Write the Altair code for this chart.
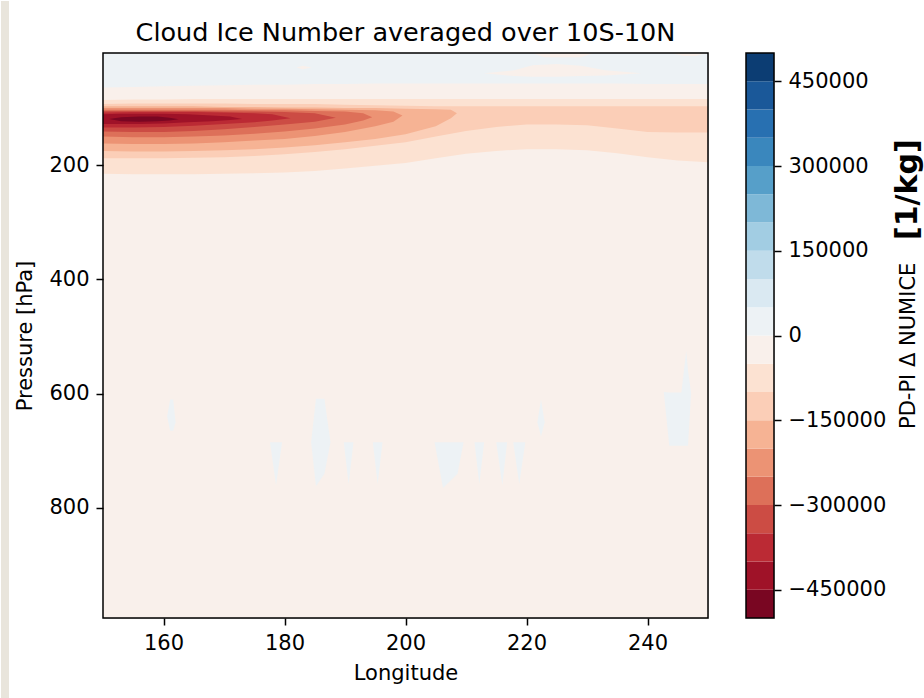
import altair as alt
import numpy as np
import pandas as pd

FONT = "DejaVu Sans"

# contour interval edges (1/kg) and colour bar ticks
level_edges = list(range(-500000, 500001, 50000))
cbar_ticks = [-450000, -300000, -150000, 0, 150000, 300000, 450000]

# vertical extent of the model levels (hPa)
p_top_lev = 3.64
p_bot_lev = 992.56

lon_ticks = [160, 180, 200, 220, 240]
p_ticks = [200, 400, 600, 800]

band_lon = [150, 155, 160, 165, 170, 175, 180, 185, 190, 195, 200,
            205, 210, 215, 220, 225, 230, 235, 240, 245, 250]

# upper layer of weak positive change: its lower edge (hPa)
pos_top_bottom = [64, 63, 62, 61, 60, 59, 59, 58, 58, 57, 57,
                  57, 57, 57, 57, 57, 57, 57, 58, 58, 58]

# nested negative regions of the upper-tropospheric band (upper / lower edge, hPa)
neg50_top = [86, 85, 85, 84, 84, 84, 84, 84, 84, 84, 84,
             84, 84, 84, 84, 84, 84, 84, 84, 84, 84]
neg50_bot = [215, 216, 216, 216, 215, 214, 213, 210, 206, 201, 196,
             188, 180, 175, 172, 172, 174, 179, 186, 192, 195]

neg100_top = [93, 92, 92, 92, 92, 93, 93, 93, 94, 95, 96,
              97, 97, 97, 97, 97, 97, 97, 97, 97, 97]
neg100_bot = [188, 188, 188, 187, 186, 184, 181, 177, 172, 166, 160,
              150, 140, 133, 129, 129, 130, 136, 142, 143, 143]

neg150_lon = [150, 155, 160, 165, 170, 175, 180, 185, 190, 195, 200, 205, 207.5, 208.5]
neg150_top = [97, 97, 97, 97, 98, 98, 99, 99, 100, 100, 101, 102, 103, 109]
neg150_bot = [175, 176, 176, 175, 174, 172, 169, 165, 160, 154, 146, 132, 118, 109]

neg200_lon = [150, 155, 160, 165, 170, 175, 180, 185, 190, 195, 198, 199.5]
neg200_top = [100, 100, 100, 100, 100, 101, 101, 102, 103, 104, 106, 113]
neg200_bot = [162, 163, 163, 162, 160, 157, 154, 149, 142, 132, 124, 113]

neg250_lon = [150, 155, 160, 165, 170, 175, 180, 185, 190, 193, 194.5]
neg250_top = [103, 103, 103, 103, 103, 104, 104, 105, 106, 109, 116]
neg250_bot = [150, 151, 151, 150, 148, 145, 141, 136, 129, 122, 116]

neg300_lon = [150, 155, 160, 165, 170, 175, 180, 185, 188.5]
neg300_top = [105, 105, 105, 105, 106, 106, 107, 109, 117]
neg300_bot = [141, 142, 142, 140, 137, 133, 129, 124, 117]

neg350_lon = [150, 155, 160, 165, 170, 175, 178, 181]
neg350_top = [108, 107, 107, 107, 108, 109, 111, 118]
neg350_bot = [134, 134, 133, 131, 128, 125, 122, 118]

neg400_lon = [150, 153, 156, 160, 164, 168, 171, 173]
neg400_top = [111, 110, 110, 110, 111, 113, 115, 119]
neg400_bot = [128, 128, 128, 127, 125, 123, 121, 119]

neg450_lon = [151, 153, 156, 159, 161, 162.5]
neg450_top = [119, 116, 115, 115, 117, 119.5]
neg450_bot = [119, 123, 124, 123, 122, 119.5]

# small weak-negative pockets inside the stratospheric positive layer
pocket_a_lon = [213, 218, 221, 225, 229, 233, 239]
pocket_a_top = [39, 34, 25, 23, 26, 34, 39]
pocket_a_bot = [39, 44, 45, 45, 44, 43, 39]
pocket_b_lon = [221, 223, 229, 231]
pocket_b_top = [3.64, 3.64, 3.64, 3.64]
pocket_b_bot = [4, 11, 11, 4]
pocket_c_lon = [244, 246, 248, 249.5]
pocket_c_top = [3.64, 3.64, 3.64, 3.64]
pocket_c_bot = [4, 9, 9, 4]
pocket_d_lon = [182, 183, 184.5]
pocket_d_top = [29, 26, 29]
pocket_d_bot = [29, 32, 29]

# weak positive slivers in the mid troposphere
spike_lons = [
    [160.6, 161.1, 161.6, 162.0],
    [177.6, 178.6, 179.6],
    [184.4, 185.2, 186.6, 187.6],
    [189.8, 190.6, 191.4],
    [194.6, 195.4, 196.2],
    [204.8, 206.2, 208.6, 209.6],
    [211.4, 212.2, 213.0],
    [215.0, 216.0, 216.8],
    [217.8, 218.8, 219.8],
    [221.8, 222.4, 223.0],
    [242.7, 243.6, 245.6, 246.4, 246.7, 247.2],
]
spike_tops = [
    [640, 610, 610, 650],
    [685, 685, 685],
    [685, 609, 609, 685],
    [685, 685, 685],
    [685, 685, 685],
    [685, 685, 685, 685],
    [685, 685, 685],
    [685, 685, 685],
    [685, 685, 685],
    [650, 610, 650],
    [597, 598, 598, 525, 560, 598],
]
spike_bots = [
    [640, 665, 665, 650],
    [685, 760, 685],
    [685, 762, 740, 685],
    [685, 758, 685],
    [685, 758, 685],
    [685, 765, 740, 685],
    [685, 758, 685],
    [685, 760, 685],
    [685, 758, 685],
    [650, 675, 650],
    [598, 691, 691, 691, 691, 600],
]

# ColorBrewer RdBu anchors, evenly spaced from 0 to 1
rdbu_anchors = ["#67001f", "#b2182b", "#d6604d", "#f4a582", "#fddbc7", "#f7f7f7",
                "#d1e5f0", "#92c5de", "#4393c3", "#2166ac", "#053061"]


def hex_rgb(h):
    return np.array([int(h[i:i + 2], 16) for i in (1, 3, 5)], dtype=float)


def rdbu(frac):
    idx = min(int(frac * 256), 255)
    t = idx / 255 * 10
    i = min(int(t), 9)
    f = t - i
    c = hex_rgb(rdbu_anchors[i]) * (1 - f) + hex_rgb(rdbu_anchors[i + 1]) * f
    return "#%02x%02x%02x" % tuple(int(round(v)) for v in c)


n_bins = len(level_edges) - 1
bin_mid = [(level_edges[i] + level_edges[i + 1]) / 2 for i in range(n_bins)]
bin_colors = [rdbu((i + 0.5) / n_bins) for i in range(n_bins)]

color_scale = alt.Scale(type="threshold", domain=level_edges[1:-1], range=bin_colors)

# regions drawn back to front: (name, interval midpoint, lon, upper edge, lower edge)
regions = [
    ("base", -25000, [150, 250], [p_top_lev, p_top_lev], [p_bot_lev, p_bot_lev]),
    ("pos_top", 25000, band_lon, [p_top_lev] * len(band_lon), pos_top_bottom),
    ("pocket_a", -25000, pocket_a_lon, pocket_a_top, pocket_a_bot),
    ("pocket_b", -25000, pocket_b_lon, pocket_b_top, pocket_b_bot),
    ("pocket_c", -25000, pocket_c_lon, pocket_c_top, pocket_c_bot),
    ("pocket_d", -25000, pocket_d_lon, pocket_d_top, pocket_d_bot),
    ("neg50", -75000, band_lon, neg50_top, neg50_bot),
    ("neg100", -125000, band_lon, neg100_top, neg100_bot),
    ("neg150", -175000, neg150_lon, neg150_top, neg150_bot),
    ("neg200", -225000, neg200_lon, neg200_top, neg200_bot),
    ("neg250", -275000, neg250_lon, neg250_top, neg250_bot),
    ("neg300", -325000, neg300_lon, neg300_top, neg300_bot),
    ("neg350", -375000, neg350_lon, neg350_top, neg350_bot),
    ("neg400", -425000, neg400_lon, neg400_top, neg400_bot),
    ("neg450", -475000, neg450_lon, neg450_top, neg450_bot),
]
for k, (ls, ts, bs) in enumerate(zip(spike_lons, spike_tops, spike_bots)):
    regions.append(("spike%d" % k, 25000, ls, ts, bs))

rows = []
for name, mid, lons, tops, bots in regions:
    for lo, t, b in zip(lons, tops, bots):
        rows.append({"region": name, "value": mid, "lon": lo, "top": t, "bottom": b})
field = pd.DataFrame(rows)

x_scale = alt.Scale(domain=[150, 250], nice=False, zero=False)
y_scale = alt.Scale(domain=[p_top_lev, p_bot_lev], nice=False, zero=False, reverse=True)

axis_common = dict(labelFont=FONT, titleFont=FONT, labelFontSize=21, titleFontSize=21,
                   labelColor="black", titleColor="black", titleFontWeight="normal",
                   tickColor="black", tickWidth=1.5, tickSize=7, domain=False, grid=False,
                   zindex=1)
x_axis = alt.Axis(values=lon_ticks, title="Longitude", labelPadding=7, titlePadding=9, **axis_common)
y_axis = alt.Axis(values=p_ticks, title="Pressure [hPa]", labelPadding=7, titlePadding=13, **axis_common)

PLOT_W, PLOT_H = 605, 565
CBAR_W = 28
CBAR_GAP = 38
one_row = pd.DataFrame({"k": [0]})

layers = []
for name, *_ in regions:
    layers.append(
        alt.Chart()
        .transform_filter(alt.datum.region == name)
        .mark_area(orient="vertical", interpolate="linear", clip=True, strokeWidth=0)
        .encode(
            x=alt.X("lon:Q", scale=x_scale, axis=x_axis),
            y=alt.Y("top:Q", scale=y_scale, axis=y_axis),
            y2="bottom:Q",
            color=alt.Color("value:Q", scale=color_scale, legend=None),
        )
    )


def frame(w, h):
    # black outline drawn above the filled regions
    return alt.Chart(one_row).mark_rect(fill=None, stroke="black", strokeWidth=1.5).encode(
        x=alt.value(0), x2=alt.value(w), y=alt.value(0), y2=alt.value(h)
    )


field_layers = alt.layer(*layers, data=field)
main = alt.layer(field_layers, frame(PLOT_W, PLOT_H)).properties(
    width=PLOT_W, height=PLOT_H,
    title=alt.TitleParams("Cloud Ice Number averaged over 10S-10N", font=FONT, fontSize=25.5,
                          fontWeight="normal", color="black", offset=6),
)

# colour bar
bins = pd.DataFrame({"lo": level_edges[:-1], "hi": level_edges[1:], "mid": bin_mid})
cbar_rect = alt.Chart(bins).mark_rect().encode(
    x=alt.value(0), x2=alt.value(CBAR_W),
    y=alt.Y("lo:Q", scale=alt.Scale(domain=[-500000, 500000], nice=False, zero=False),
            axis=alt.Axis(orient="right", values=cbar_ticks, format="d", title=None,
                          labelPadding=7, **axis_common)),
    y2="hi:Q",
    color=alt.Color("mid:Q", scale=color_scale, legend=None),
)
cbar_label = alt.Chart(pd.DataFrame({"t": ["PD-PI \u0394 NUMICE"]})).mark_text(
    angle=270, align="left", baseline="alphabetic", font=FONT, fontSize=21, color="black"
).encode(text="t:N", x=alt.value(169), y=alt.value(376))
cbar_unit = alt.Chart(pd.DataFrame({"t": ["[1/kg]"]})).mark_text(
    angle=270, align="left", baseline="alphabetic", font=FONT, fontSize=30, fontWeight="bold",
    color="black"
).encode(text="t:N", x=alt.value(171), y=alt.value(187))

# narrow strip of the surrounding page along the figure's left edge,
# placed relative to the colour bar origin (plot left edge sits 102 px from the figure edge)
strip_left = -(PLOT_W + CBAR_GAP + 102)
page_strip = alt.Chart(one_row).mark_rect(fill="#e9e5dc", strokeWidth=0).encode(
    x=alt.value(strip_left), x2=alt.value(strip_left + 8),
    y=alt.value(-52), y2=alt.value(646),
)

cbar = alt.layer(cbar_rect, frame(CBAR_W, PLOT_H), cbar_label, cbar_unit, page_strip).properties(
    width=CBAR_W, height=PLOT_H)

chart = (
    alt.hconcat(main, cbar, spacing=CBAR_GAP, bounds="flush")
    .properties(padding={"left": 0, "top": 0, "right": 0, "bottom": 0})
    .configure_view(stroke=None)
    .configure(background="white")
)

chart.save("out.html", embed_options={"renderer": "svg", "actions": False})
